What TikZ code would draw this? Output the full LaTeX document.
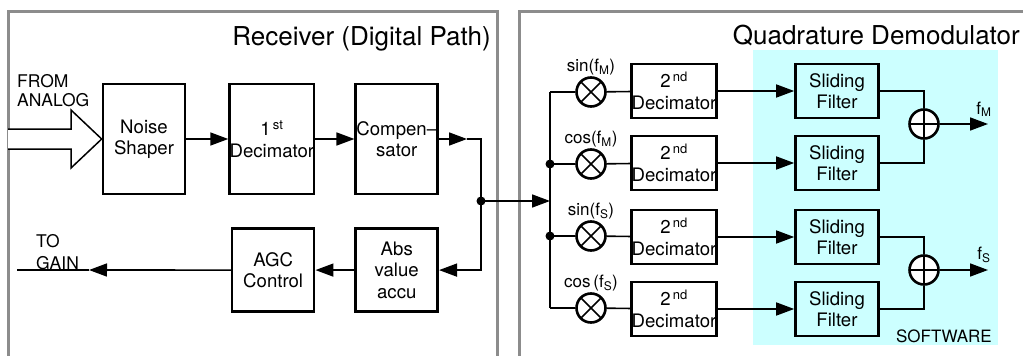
\documentclass[tikz,border=0pt]{standalone}
\usepackage{fontspec}
\setmainfont{TeX Gyre Heros}
\usetikzlibrary{positioning,arrows.meta}
\definecolor{swcyan}{RGB}{204,255,255}
\definecolor{framegray}{RGB}{140,140,140}

\begin{document}
\begin{tikzpicture}[x=1pt,y=-1pt,
        >={Triangle[length=18pt,width=13pt]},
        frame/.style={draw=framegray,line width=3pt},
        block/.style={rectangle,draw,line width=2.6pt,minimum width=82pt,inner sep=0pt,
            align=center,font=\fontsize{18.6}{21.5}\selectfont},
        rowbox/.style={block,minimum width=83pt,minimum height=54pt},
        mul/.style={circle,draw,line width=2.6pt,minimum size=29pt,inner sep=0pt,
            path picture={\draw[line width=1.6pt]
                (path picture bounding box.north west) -- (path picture bounding box.south east)
                (path picture bounding box.north east) -- (path picture bounding box.south west);}},
        sum/.style={circle,draw,line width=2.6pt,fill=white,minimum size=29pt,inner sep=0pt,
            path picture={\draw[line width=1.6pt]
                (path picture bounding box.north) -- (path picture bounding box.south)
                (path picture bounding box.west) -- (path picture bounding box.east);}},
        lbl/.style={font=\fontsize{17}{19}\selectfont,inner sep=1pt},
        wire/.style={line width=1.6pt},
        dot/.style={circle,fill,inner sep=0pt,minimum size=9pt}]
        \useasboundingbox (0,0) rectangle (1023,356);

        % panels
        \draw[frame] (8,360) -- (8,11) -- (497,11) -- (497,360);
        \draw[frame] (519,360) -- (519,11) -- (1030,11);
        \fill[swcyan] (753,50) rectangle (998,345);
        \node[anchor=base east,inner sep=0pt,font=\fontsize{26}{28}\selectfont] (t1) at (491,45) {Receiver (Digital Path)};
        \node[anchor=base east,inner sep=0pt,font=\fontsize{26}{28}\selectfont] (t2) at (1020,44) {Quadrature Demodulator};
        \node[anchor=base east,lbl] (sw) at (993,342) {SOFTWARE};

        % receiver
        \node[block,minimum height=110pt] (ns) at (144,139) {Noise\\Shaper};
        \node[block,minimum height=110pt] (dec1) [right=42pt of ns] {1\textsuperscript{\,st}\\Decimator};
        \node[block,minimum height=110pt] (comp) [right=39pt of dec1] {Compen\textendash\\sator};
        \node[block,minimum height=83pt] (abs) [below=32pt of comp] {Abs\\value\\accu};
        \node[block,minimum height=83pt] (agc) [left=39pt of abs] {AGC\\Control};

        \node[anchor=west,align=left,inner sep=0pt,font=\fontsize{17.5}{19}\selectfont] (from) at (17,91) {FROM\\ANALOG};
        \node[anchor=west,align=left,inner sep=0pt,font=\fontsize{17.5}{22}\selectfont] (to) at (36,252) {TO\\GAIN};
        \draw[line width=1.5pt,fill=white] (8,129) -- (71,129) -- (71,110) -- (ns.west)
            -- (71,168) -- (71,149) -- (8,149);

        \coordinate (ctip) at (467,139);
        \coordinate (jn) at (481,201);
        \coordinate (gtip) at (89,270);
        \coordinate (gain) at (17,270);
        \coordinate (bus) at (550,201);

        \draw[wire,->] (ns) -- (dec1);
        \draw[wire,->] (dec1) -- (comp);
        \draw[wire,->] (comp) -- (ctip);
        \draw[wire] (ctip) -| (jn);
        \draw[wire,->] (jn) |- (abs.east);
        \draw[wire,->] (abs) -- (agc);
        \draw[wire,->] (agc) -- (gtip);
        \draw[wire] (gtip) -- (gain);
        \draw[wire,->] (jn) -- (bus);
        \node[dot] (jdot) at (jn) {};

        % quadrature demodulator
        \coordinate (b1) at (550,92);
        \coordinate (b2) at (550,164);
        \coordinate (b3) at (550,236);
        \coordinate (b4) at (550,308);
        \node[mul] (m1) at (591,92) {};
        \node[mul] (m2) at (591,164) {};
        \node[mul] (m3) at (591,236) {};
        \node[mul] (m4) at (591,308) {};
        \node[lbl] (l1) [above=0pt of m1] {sin(f\textsubscript{M})};
        \node[lbl] (l2) [above=0pt of m2] {cos(f\textsubscript{M})};
        \node[lbl] (l3) [above=0pt of m3] {sin(f\textsubscript{S})};
        \node[lbl] (l4) [above=0pt of m4] {cos\,(f\textsubscript{S})};
        \node[rowbox] (d1) at (674,91) {2\textsuperscript{\,nd}\\Decimator};
        \node[rowbox] (d2) at (674,163) {2\textsuperscript{\,nd}\\Decimator};
        \node[rowbox] (d3) at (674,237) {2\textsuperscript{\,nd}\\Decimator};
        \node[rowbox] (d4) at (674,309) {2\textsuperscript{\,nd}\\Decimator};
        \node[rowbox] (f1) at (837,91) {Sliding\\Filter};
        \node[rowbox] (f2) at (837,163) {Sliding\\Filter};
        \node[rowbox] (f3) at (837,237) {Sliding\\Filter};
        \node[rowbox] (f4) at (837,309) {Sliding\\Filter};
        \node[sum] (s1) at (924,124) {};
        \node[sum] (s2) at (924,270) {};
        \coordinate (o1) at (988,124);
        \coordinate (o2) at (988,270);
        \node[lbl,anchor=south] (fm) at (984,118) {f\textsubscript{M}};
        \node[lbl,anchor=south] (fs) at (984,264) {f\textsubscript{S}};

        \draw[wire] (b1) -- (b4);
        \draw[wire] (b1) -- (m1) -- (d1);
        \draw[wire] (b2) -- (m2) -- (d2);
        \draw[wire] (b3) -- (m3) -- (d3);
        \draw[wire] (b4) -- (m4) -- (d4);
        \draw[wire,->] (d1) -- (f1);
        \draw[wire,->] (d2) -- (f2);
        \draw[wire,->] (d3) -- (f3);
        \draw[wire,->] (d4) -- (f4);
        \draw[wire] (f1) -| (s1);
        \draw[wire] (f2) -| (s1);
        \draw[wire] (f3) -| (s2);
        \draw[wire] (f4) -| (s2);
        \draw[wire,->] (s1) -- (o1);
        \draw[wire,->] (s2) -- (o2);
        \node[dot] (bd2) at (b2) {};
        \node[dot] (bd3) at (b3) {};
    \end{tikzpicture}
\end{document}
